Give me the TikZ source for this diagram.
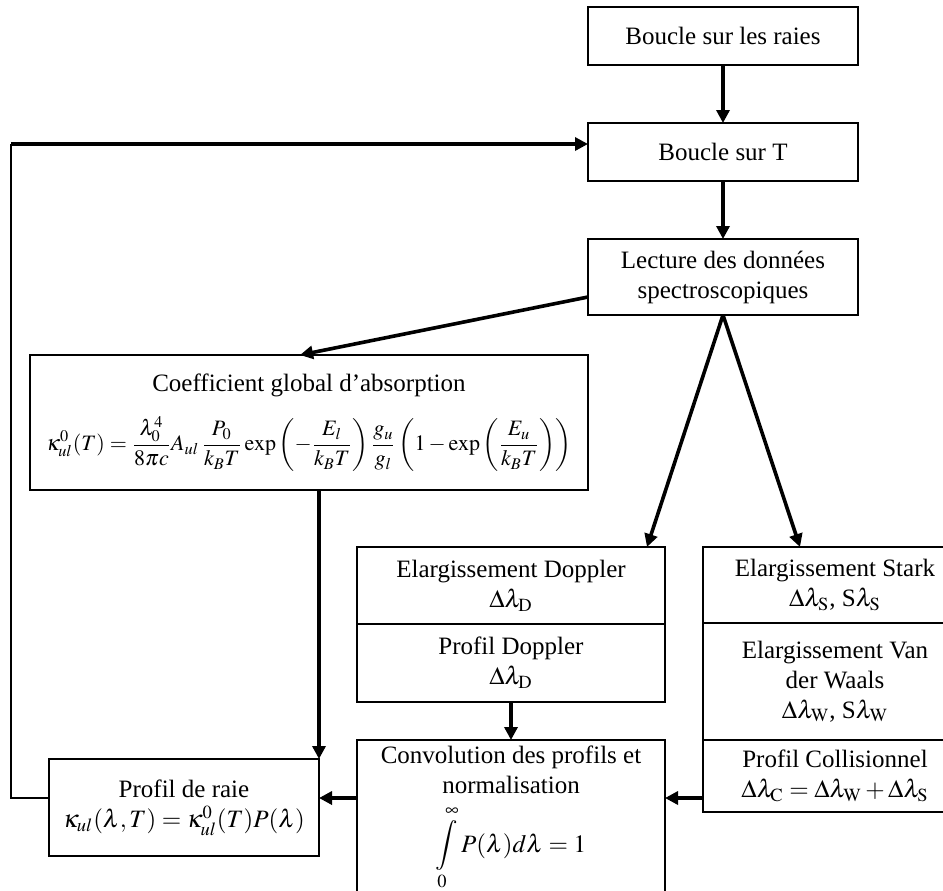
\documentclass[tikz,border=0pt]{standalone}
\usepackage{mathptmx}
\usepackage[no-math]{fontspec}
\setmainfont{Liberation Serif}
\usetikzlibrary{positioning,arrows.meta}

\tikzset{
  boite/.style={draw, line width=0.9pt, align=center, inner sep=2pt, outer sep=0pt,
    font=\fontsize{12.5}{15}\selectfont},
  fleche/.style={-{Triangle[length=6.5pt,width=6.5pt]}, line width=1.8pt},
  retourligne/.style={line width=0.9pt},
}

\begin{document}
\begin{tikzpicture}[x=0.5pt, y=-0.5pt, node distance=29pt]
\useasboundingbox (0,0) rectangle (943,890);

% boucles et lecture
\node (raies) [boite, minimum width=135pt, minimum height=29pt] at (723,36) {Boucle sur les raies};
\node (boucleT) [boite, minimum width=135pt, minimum height=29pt, below=of raies] {Boucle sur T};
\node (lecture) [boite, minimum width=135pt, minimum height=38pt, below=of boucleT] {Lecture des données\\spectroscopiques};

% coefficient
\node (coef) [boite, minimum width=279pt, minimum height=67.5pt] at (309,422.5)
  {Coefficient global d’absorption\\[9pt]
   {\fontsize{11}{13}\selectfont
   $\displaystyle \kappa^{0}_{ul}(T)=\frac{\lambda_0^4}{8\pi c}A_{ul}\,\frac{P_0}{k_BT}\exp\left(-\frac{E_l}{k_BT}\right)\frac{g_u}{g_l}\left(1-\exp\left(\frac{E_u}{k_BT}\right)\right)$}};

% Doppler
\node (dopA) [boite, minimum width=154pt, minimum height=38.5pt, anchor=north] at (511,547)
  {Elargissement Doppler\\$\Delta\lambda_{\mathrm{D}}$};
\node (dopB) [boite, minimum width=154pt, minimum height=39pt, below=0pt of dopA]
  {Profil Doppler\\$\Delta\lambda_{\mathrm{D}}$};

% Stark et Van der Waals
\node (starkA) [boite, minimum width=132pt, minimum height=38pt, anchor=north west] at (703,547)
  {Elargissement Stark\\$\Delta\lambda_{\mathrm{S}}$, S$\lambda_{\mathrm{S}}$};
\node (vdw) [boite, minimum width=132pt, minimum height=58.5pt, below=0pt of starkA]
  {Elargissement Van\\der Waals\\$\Delta\lambda_{\mathrm{W}}$, S$\lambda_{\mathrm{W}}$};
\node (coll) [boite, minimum width=132pt, minimum height=36pt, below=0pt of vdw]
  {Profil Collisionnel\\$\Delta\lambda_{\mathrm{C}}=\Delta\lambda_{\mathrm{W}}+\Delta\lambda_{\mathrm{S}}$};

% convolution et profil
\node (conv) [boite, minimum width=154pt, inner ysep=3pt, anchor=north] at (511,740)
  {Convolution des profils et\\normalisation\\[5pt]
   $\displaystyle\int\limits_0^\infty P(\lambda)d\lambda=1$\\};
\node (profil) [boite, minimum width=135pt, minimum height=48.5pt] at (184,807.5)
  {Profil de raie\\$\kappa_{ul}(\lambda,T)=\kappa^{0}_{ul}(T)P(\lambda)$};

\coordinate (liaison) at (0,798);
\coordinate (retour) at (11,144);

\draw[fleche] (raies) -- (boucleT);
\draw[fleche] (boucleT) -- (lecture);
\draw[fleche] ([yshift=-10pt]lecture.west) -- ([xshift=-4.5pt]coef.north);
\draw[fleche] (lecture.south) -- ([xshift=68pt]dopA.north);
\draw[fleche] (lecture.south) -- ([xshift=-17.5pt]starkA.north);
\draw[fleche] (coef.south -| profil.east) -- (profil.north east);
\draw[fleche] (dopB) -- (dopB |- conv.north);
\draw[fleche] (coll.west |- liaison) -- (conv.east |- liaison);
\draw[fleche] (conv.west |- liaison) -- (profil.east |- liaison);

% retour vers la boucle sur T
\draw[retourligne] (profil.west |- liaison) -| (retour);
\draw[fleche] (retour) -- (retour -| boucleT.west);
\end{tikzpicture}
\end{document}
